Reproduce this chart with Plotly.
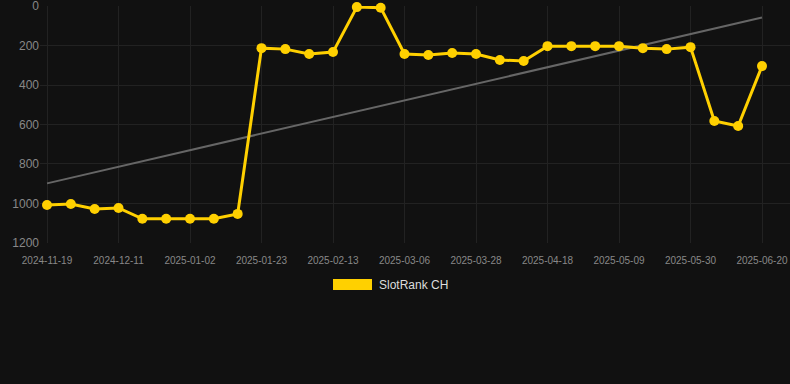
import numpy as np
import plotly.graph_objects as go

dates = ["2024-11-19", "2024-11-26", "2024-12-04", "2024-12-11", "2024-12-18", "2024-12-25",
         "2025-01-02", "2025-01-09", "2025-01-16", "2025-01-23", "2025-01-30", "2025-02-06",
         "2025-02-13", "2025-02-20", "2025-02-27", "2025-03-06", "2025-03-13", "2025-03-20",
         "2025-03-28", "2025-04-04", "2025-04-11", "2025-04-18", "2025-04-25", "2025-05-02",
         "2025-05-09", "2025-05-16", "2025-05-23", "2025-05-30", "2025-06-06", "2025-06-13",
         "2025-06-20"]
rank = [1008, 1003, 1028, 1023, 1078, 1078, 1078, 1078, 1053, 213, 218, 243, 233, 5, 8,
        243, 248, 238, 243, 273, 278, 203, 203, 203, 203, 213, 218, 208, 582, 608, 304]
tick_labels = dates[::3]
y_ticks = [0, 200, 400, 600, 800, 1000, 1200]
series_name = "SlotRank CH"

idx = np.arange(len(rank))
slope, intercept = np.polyfit(idx, rank, 1)
trend = slope * idx + intercept

GOLD = "#FFD000"

fig = go.Figure()
fig.add_trace(go.Scatter(x=idx, y=trend, mode="lines", line=dict(color="#666666", width=2),
                         showlegend=False, hoverinfo="skip"))
fig.add_trace(go.Scatter(x=idx, y=rank, mode="lines+markers", name=series_name,
                         line=dict(color=GOLD, width=3), cliponaxis=False,
                         marker=dict(color=GOLD, size=10), showlegend=False))

# legend drawn as a filled box + label (as in the reference)
fig.add_shape(type="rect", xref="paper", yref="paper",
              x0=(333 - 40) / 750, x1=(372 - 40) / 750,
              y0=(243 - 279) / 237, y1=(243 - 290) / 237,
              fillcolor=GOLD, line=dict(width=0))
fig.add_annotation(text=series_name, xref="paper", yref="paper",
                   x=(377 - 40) / 750, y=(243 - 284.5) / 237, xanchor="left", yanchor="middle",
                   showarrow=False, font=dict(size=12, color="#dddddd"))

fig.update_layout(
    width=790, height=384,
    paper_bgcolor="#111111", plot_bgcolor="#111111",
    margin=dict(l=40, r=0, t=6, b=141),
    font=dict(family="Liberation Sans, Arial, sans-serif", color="#888888"),
    showlegend=False,
    xaxis=dict(tickmode="array", tickvals=idx[::3], ticktext=tick_labels,
               range=[-0.294, 31.175], showgrid=True, gridcolor="#222222", zeroline=False,
               tickfont=dict(size=10, color="#888888"), ticks="outside", ticklen=8,
               tickcolor="rgba(0,0,0,0)", showline=False, ticklabeloverflow="allow"),
    yaxis=dict(range=[1200.5, -0.5], tickmode="array", tickvals=y_ticks,
               ticktext=[str(v) for v in y_ticks], ticklabeloverflow="allow",
               showgrid=True, gridcolor="#222222", zeroline=False,
               tickfont=dict(size=12, color="#888888"), ticks="", showline=False),
)

fig.write_html("out.html", config={"displayModeBar": False},
               post_script="document.body.style.margin='0';document.body.style.background='#111111';")
